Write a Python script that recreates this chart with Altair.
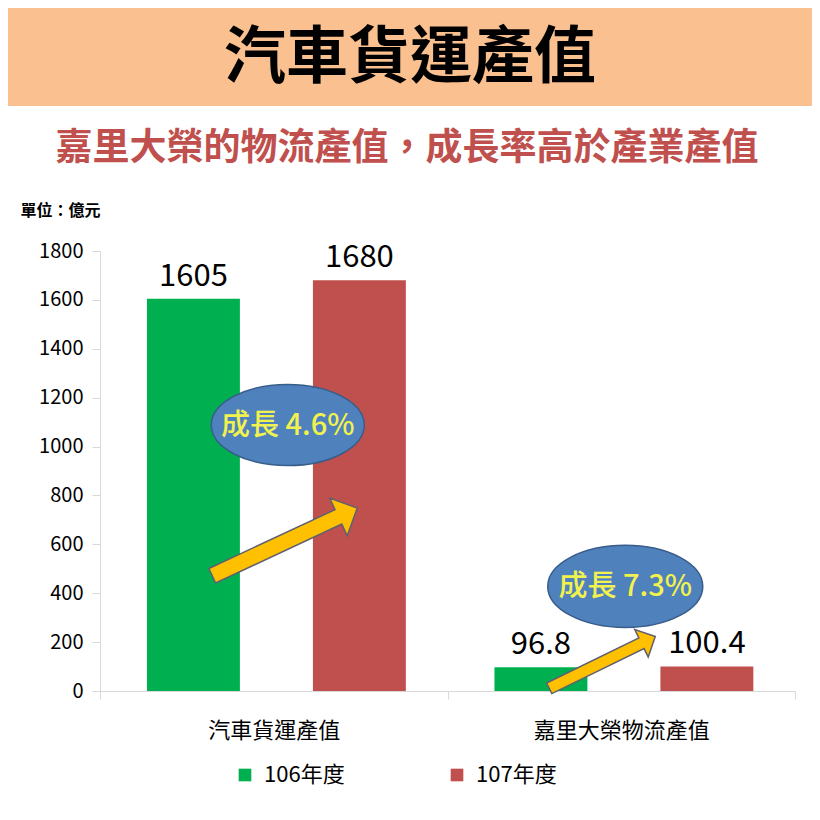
import altair as alt
import pandas as pd

# ---- data ----
title_text = ["汽車貨運產值"]
subtitle_text = ["嘉里大榮的物流產值，成長率高於產業產值"]
unit_text = "單位：億元"
categories = ["汽車貨運產值", "嘉里大榮物流產值"]
years = ["106年度", "107年度"]
values_106 = [1605, 96.8]
values_107 = [1680, 100.4]
labels_106 = ["1605", "96.8"]
labels_107 = ["1680", "100.4"]
growth_labels = ["成長 4.6%", "成長 7.3%"]
bubble_at = [1088, 428]   # value level of each growth bubble
arrow_at = [610, 117]     # value level of each growth arrow
y_ticks = [0, 200, 400, 600, 800, 1000, 1200, 1400, 1600, 1800]

rows = []
for i, c in enumerate(categories):
    rows.append({"category": c, "year": years[0], "value": values_106[i], "label": labels_106[i]})
    rows.append({"category": c, "year": years[1], "value": values_107[i], "label": labels_107[i]})
df = pd.DataFrame(rows)

FONT = "Noto Sans CJK TC"
W, H = 695, 440
PAD = {"left": 92, "top": 243, "right": 17, "bottom": 110}

x_enc = alt.X("category:N", sort=categories,
              scale=alt.Scale(paddingInner=0, paddingOuter=0),
              axis=alt.Axis(title=None, labelAngle=0, labelFontSize=22, labelColor="#000000",
                            labelFont=FONT, labelPadding=21, tickBand="extent", tickSize=8,
                            domainColor="#D9D9D9", tickColor="#D9D9D9", grid=False))
xo_enc = alt.XOffset("year:N", sort=years,
                     scale=alt.Scale(paddingInner=0.44, paddingOuter=0.267, align=0.53))
y_enc = alt.Y("value:Q", scale=alt.Scale(domain=[0, 1800], nice=False),
              axis=alt.Axis(values=y_ticks, format="d", title=unit_text, titleAngle=0,
                            titleAlign="left", titleBaseline="middle", titleX=-80, titleY=-41,
                            titleFontSize=16, titleFontWeight="bold", titleFont=FONT,
                            titleColor="#000000", labelFontSize=20, labelFont=FONT,
                            labelColor="#000000", labelPadding=9, tickSize=8,
                            domainColor="#D9D9D9", tickColor="#D9D9D9", grid=False))

base = alt.Chart(df)

bars = base.mark_bar().encode(
    x=x_enc, xOffset=xo_enc, y=y_enc,
    color=alt.Color("year:N", sort=years,
                    scale=alt.Scale(domain=years, range=["#00B050", "#C0504D"]),
                    legend=alt.Legend(title=None, orient="none", direction="horizontal",
                                      legendX=134, legendY=513, symbolType="square",
                                      symbolSize=160, symbolStrokeWidth=0, labelFontSize=22,
                                      labelFont=FONT, labelColor="#000000", labelOffset=8,
                                      columnPadding=101, padding=0)),
)

bar_labels = base.mark_text(baseline="alphabetic", dy=-13, fontSize=31, font=FONT,
                            color="#000000").encode(
    x=alt.X("category:N", sort=categories), xOffset=alt.XOffset("year:N", sort=years),
    y="value:Q", text="label:N")

ELLIPSE = "M-1,0A1,0.53,0,1,1,1,0A1,0.53,0,1,1,-1,0Z"
ARROW = "M-1,-0.1L0.74,-0.1L0.74,-0.26L1,0L0.74,0.26L0.74,0.1L-1,0.1Z"

ann_layers = []
ell_dx = [14, 4]
ell_w = [153, 155]
arr_dx = [11, -19]
arr_len = [160, 118]
arr_angle = [335, 334]
for i, c in enumerate(categories):
    a = alt.Chart(pd.DataFrame({"category": [c], "growth": [growth_labels[i]],
                                "bubble": [bubble_at[i]], "arrow": [arrow_at[i]]}))
    arrow = a.mark_point(shape=ARROW, filled=True, fill="#FFC000", stroke="#5F6070",
                         strokeWidth=1.5, opacity=1, size=arr_len[i] ** 2,
                         angle=arr_angle[i], xOffset=arr_dx[i]).encode(
        x=alt.X("category:N", sort=categories), y="arrow:Q")
    ell = a.mark_point(shape=ELLIPSE, filled=True, fill="#4F81BD", stroke="#385D8A",
                       strokeWidth=1.5, opacity=1, size=ell_w[i] ** 2,
                       xOffset=ell_dx[i]).encode(
        x=alt.X("category:N", sort=categories), y="bubble:Q")
    txt = a.mark_text(fontSize=29, font=FONT, fontWeight=500, color="#F2F24E",
                      baseline="middle", xOffset=ell_dx[i], dy=1).encode(
        x=alt.X("category:N", sort=categories), y="bubble:Q", text="growth:N")
    ann_layers += [arrow, ell, txt]

banner = alt.Chart(pd.DataFrame({"k": [0]})).mark_rect(color="#FAC090").encode(
    x=alt.value(-PAD["left"]), x2=alt.value(W + PAD["right"]),
    y=alt.value(-PAD["top"]), y2=alt.value(-145))

title = alt.Chart(pd.DataFrame({"t": title_text})).mark_text(
    fontSize=62, fontWeight="bold", font=FONT, color="#000000", baseline="middle").encode(
    text="t:N", x=alt.value(310), y=alt.value(-192))

subtitle = alt.Chart(pd.DataFrame({"t": subtitle_text})).mark_text(
    fontSize=37, fontWeight="bold", font=FONT, color="#C0504D", baseline="middle").encode(
    text="t:N", x=alt.value(307), y=alt.value(-102))

chart = alt.layer(banner, title, subtitle, bars, bar_labels, *ann_layers).properties(
    width=W, height=H, padding=PAD, autosize=alt.AutoSizeParams(type="none"),
    background="#FFFFFF"
).configure_view(stroke=None)

chart.save("out.html", embed_options={"renderer": "svg", "actions": False})
